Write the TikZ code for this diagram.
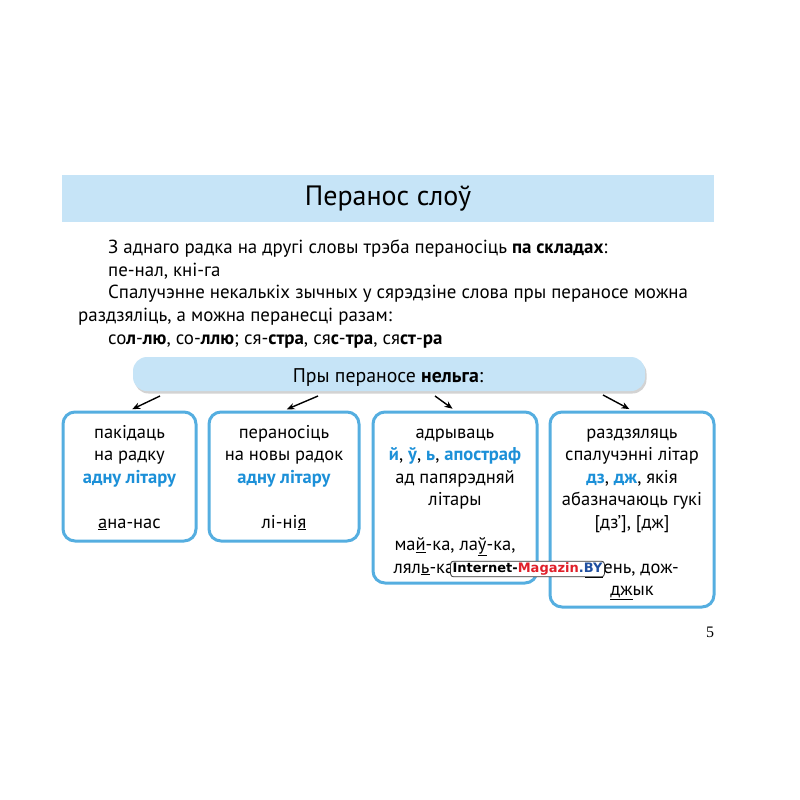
\documentclass[tikz,border=0pt]{standalone}
\usepackage{fontspec}
\setmainfont{PT Sans}
\newfontfamily\seitenfont{Liberation Serif}
\newfontfamily\wmfont{DejaVu Sans}
\usetikzlibrary{arrows.meta,shadows}
\definecolor{hellblau}{HTML}{C6E4F7}
\definecolor{rahmenblau}{HTML}{55AEE0}
\definecolor{textblau}{HTML}{1C90D8}
\definecolor{wmrot}{HTML}{E0202A}
\definecolor{wmblau}{HTML}{1F4FA0}
\newcommand{\bl}[1]{\textcolor{textblau}{\textbf{#1}}}
\tikzset{
  kasten/.style={draw=rahmenblau, line width=3pt, rounded corners=12pt, fill=white, inner sep=0pt},
  kastentext/.style={align=center, inner sep=0pt, anchor=base, font=\fontsize{18.5}{22.5}\selectfont},
  zeile/.style={anchor=base west, inner sep=0pt, font=\fontsize{18.9}{20}\selectfont},
  pfeil/.style={-{Stealth[length=8pt,width=6.5pt]}, line width=1.4pt, shorten >=3pt},
}
\begin{document}
\begin{tikzpicture}[x=1pt, y=-1pt]
    \useasboundingbox (0,0) rectangle (800,800);

    % Titelleiste
    \fill[hellblau] (62,175) rectangle (714,222);
    \node[inner sep=0pt, font=\fontsize{28}{30}\selectfont] (titel) at (388,199) {Перанос слоў};

    % Zeilen des Textes
    \node[zeile] (l1) at (108,253) {З аднаго радка на другі словы трэба пераносіць \textbf{па складах}:};
    \node[zeile] (l2) at (108,276) {пе-нал, кні-га};
    \node[zeile] (l3) at (108,298.5) {Спалучэнне некалькіх зычных у сярэдзіне слова пры пераносе можна};
    \node[zeile] (l4) at (78,321.5) {раздзяліць, а можна перанесці разам:};
    \node[zeile] (l5) at (108,344) {со\textbf{л}-\textbf{лю}, со-\textbf{ллю}; ся-\textbf{стра}, ся\textbf{с}-\textbf{тра}, ся\textbf{ст}-\textbf{ра}};

    % Leiste "nelga"
    \node[fill=hellblau, rounded corners=14pt, minimum width=512pt, minimum height=34pt,
          drop shadow={opacity=0.35, shadow xshift=1.5pt, shadow yshift=-2.5pt}] (nelga) at (389,374) {};
    \node[inner sep=0pt, anchor=base, font=\fontsize{19.8}{22}\selectfont] (nelgatext) at (388,382) {Пры пераносе \textbf{нельга}:};

    % Kästen
    \node[kasten, minimum width=133pt, minimum height=129pt] (k1) at (129.5,476.5) {};
    \node[kasten, minimum width=150pt, minimum height=129pt] (k2) at (284,476.5) {};
    \node[kasten, minimum width=164pt, minimum height=171pt] (k3) at (455,497.5) {};
    \node[kasten, minimum width=164pt, minimum height=195pt] (k4) at (632,509.5) {};

    % Texte in den Kästen
    \node[kastentext] (t1) at (129.5,528) {пакідаць\\на радку\\\bl{адну літару}\\[22.5pt]\underline{а}на-нас};
    \node[kastentext] (t2) at (284,528) {пераносіць\\на новы радок\\\bl{адну літару}\\[22.5pt]лі-ні\underline{я}};
    \node[kastentext] (t3) at (455,573) {адрываць\\\bl{й}, \bl{ў}, \bl{ь}, \bl{апостраф}\\ад папярэдняй\\літары\\[22.5pt]ма\underline{й}-ка, ла\underline{ў}-ка,\\лял\underline{ь}-ка, \phantom{аб’-езд}};
    \node[kastentext] (t4) at (632,595.5) {раздзяляць\\спалучэнні літар\\\bl{дз}, \bl{дж}, якія\\абазначаюць гукі\\{[дз’], [дж]}\\[22.5pt]\underline{дз}ень, дож-\\\underline{дж}ык};

    % Pfeile
    \coordinate (s1) at (160,396);
    \coordinate (s2) at (318,396);
    \coordinate (s3) at (435,396);
    \coordinate (s4) at (603,395);
    \draw[pfeil] (s1) -- (k1.north);
    \draw[pfeil] (s2) -- (k2.north);
    \draw[pfeil] (s3) -- (k3.north);
    \draw[pfeil] (s4) -- (k4.north);

    % Wasserzeichen
    \node[draw=black!80, line width=0.8pt, fill=white, rounded corners=3pt, inner xsep=2pt, inner ysep=1.5pt,
          font=\wmfont\fontsize{13}{15}\selectfont\bfseries] (wm) at (527.5,569)
          {Internet-\textcolor{wmrot}{Magazin}\textcolor{wmblau}{.BY}};

    % Seitenzahl
    \node[inner sep=0pt, font=\seitenfont\fontsize{16}{18}\selectfont] (seite) at (710,632) {5};
  \end{tikzpicture}
\end{document}
